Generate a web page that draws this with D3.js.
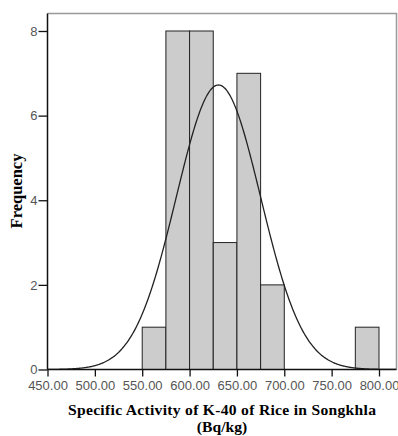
<!DOCTYPE html>
<html>
<head>
<meta charset="utf-8">
<script src="https://cdn.jsdelivr.net/npm/d3@7"></script>
<style>
body { margin: 0; background: #fff; }
</style>
</head>
<body>
<script>
const width = 398;
const height = 436;

// histogram bins (lower edge) and counts
var binStarts = [550, 575, 600, 625, 650, 675, 775];
var counts = [1, 8, 8, 3, 7, 2, 1];
var binWidth = 25;
var xTicks = [450, 500, 550, 600, 650, 700, 750, 800];
var yTicks = [0, 2, 4, 6, 8];

// fitted normal curve parameters
var curveMean = 630.5;
var curveSd = 44.5;
var totalN = d3.sum(counts);

var svg = d3.select("body")
 .append("svg")
 .attr("width", width)
 .attr("height", height);

//Scales: 450 at x=47.5, 800 at x=379 ; 0 at y=369.5, 8 at y=31

var xscale = d3.scaleLinear()
 .domain([450, 800])
 .range([47.5, 379]);

var yscale = d3.scaleLinear()
 .domain([0, 8])
 .range([369.5, 31]);

var plotLeft = 47.5, plotRight = 396.5, plotTop = 13.5, plotBottom = 369.5;

//frame (top and right in grey)
svg.append("path")
 .attr("d", "M" + plotLeft + "," + plotTop + "H" + plotRight + "V" + plotBottom)
 .attr("fill", "none")
 .attr("stroke", "#999")
 .attr("stroke-width", 1.5);

//bars
svg.selectAll("rect.bar")
 .data(binStarts)
 .enter().append("rect")
 .attr("class", "bar")
 .attr("x", d => xscale(d))
 .attr("width", d => xscale(d + binWidth) - xscale(d))
 .attr("y", (d, i) => yscale(counts[i]))
 .attr("height", (d, i) => yscale(0) - yscale(counts[i]))
 .attr("fill", "#cccccc")
 .attr("stroke", "#222")
 .attr("stroke-width", 1);

//normal curve
var curvePts = d3.range(450, 820.5, 1).map(function (v) {
  var z = (v - curveMean) / curveSd;
  return [v, totalN * binWidth / (curveSd * Math.sqrt(2 * Math.PI)) * Math.exp(-0.5 * z * z)];
});
var line = d3.line()
 .x(d => xscale(d[0]))
 .y(d => yscale(d[1]))
 .curve(d3.curveBasis);
svg.append("path")
 .datum(curvePts.filter(d => xscale(d[0]) <= plotRight))
 .attr("d", line)
 .attr("fill", "none")
 .attr("stroke", "#222")
 .attr("stroke-width", 1.3);

//axes
var x_axis = d3.axisBottom(xscale)
 .tickValues(xTicks)
 .tickFormat(d3.format(".2f"))
 .tickSize(7)
 .tickSizeOuter(0);

var y_axis = d3.axisLeft(yscale)
 .tickValues(yTicks)
 .tickSize(9)
 .tickSizeOuter(0);

var gx = svg.append("g")
 .attr("transform", "translate(0," + plotBottom + ")")
 .call(x_axis);
gx.select(".domain").attr("d", "M" + plotLeft + ",0H" + plotRight).attr("stroke", "#111").attr("stroke-width", 1.5);

var gy = svg.append("g")
 .attr("transform", "translate(" + plotLeft + ",0)")
 .call(y_axis);
gy.select(".domain").attr("d", "M0," + plotTop + "V" + plotBottom).attr("stroke", "#111").attr("stroke-width", 1.5);

svg.selectAll(".tick line").attr("stroke", "#111").attr("stroke-width", 1.3);
svg.selectAll(".tick text")
 .attr("fill", "#555")
 .style("font-family", "Liberation Sans, Arial, sans-serif")
 .style("font-size", "13px");
gx.selectAll(".tick text").attr("dy", "0.9em").attr("y", 9);
gy.selectAll(".tick text").attr("x", -10);

//axis titles
svg.append("text")
 .attr("transform", "translate(22,191) rotate(-90)")
 .attr("text-anchor", "middle")
 .style("font-family", "Liberation Serif, Times New Roman, serif")
 .style("font-weight", "bold")
 .style("font-size", "16.5px")
 .text("Frequency");

svg.append("text")
 .attr("x", 222)
 .attr("y", 414.5)
 .attr("text-anchor", "middle")
 .style("font-family", "Liberation Serif, Times New Roman, serif")
 .style("font-weight", "bold")
 .style("font-size", "15.6px")
 .attr("textLength", 308)
 .text("Specific Activity of K-40 of Rice in Songkhla");

svg.append("text")
 .attr("x", 222)
 .attr("y", 432)
 .attr("text-anchor", "middle")
 .style("font-family", "Liberation Serif, Times New Roman, serif")
 .style("font-weight", "bold")
 .style("font-size", "15.6px")
 .text("(Bq/kg)");
</script>
</body>
</html>
